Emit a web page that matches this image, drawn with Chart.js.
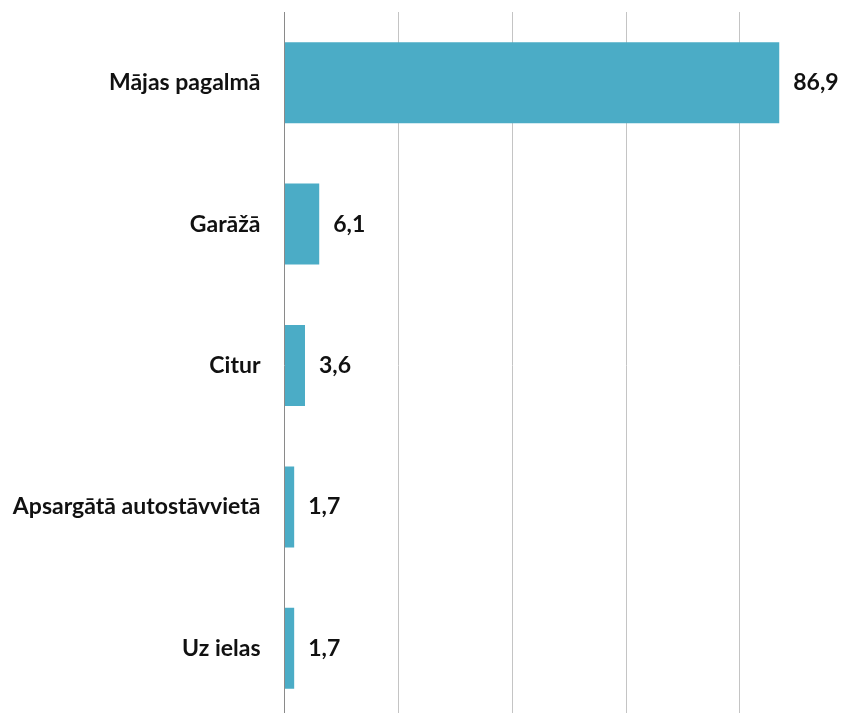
<!DOCTYPE html>
<html>
<head>
<meta charset="utf-8">
<script src="https://cdn.jsdelivr.net/npm/chart.js@4"></script>
<style>
  html, body { margin: 0; padding: 0; background: #fff; overflow: hidden; }
  canvas { display: block; }
</style>
</head>
<body>
<canvas id="chart" width="847" height="719"></canvas>
<script>
const categories = ["Mājas pagalmā", "Garāžā", "Citur", "Apsargātā autostāvvietā", "Uz ielas"];
const values = [86.9, 6.1, 3.6, 1.7, 1.7];

// draw value labels to the right of each bar
const valueLabels = {
  id: "valueLabels",
  afterDatasetsDraw(chart) {
    const ctx = chart.ctx;
    const meta = chart.getDatasetMeta(0);
    ctx.save();
    ctx.font = "bold 23px Lato";
    ctx.fillStyle = "#111";
    ctx.textAlign = "left";
    ctx.textBaseline = "middle";
    meta.data.forEach((bar, i) => {
      ctx.fillText(values[i].toFixed(1).replace(".", ","), bar.x + 14, bar.y);
    });
    ctx.restore();
  }
};

new Chart(document.getElementById("chart").getContext("2d"), {
  type: "bar",
  data: {
    labels: categories,
    datasets: [{
      data: values,
      backgroundColor: "#4BACC6",
      categoryPercentage: 1,
      barPercentage: 0.573,
    }],
  },
  options: {
    indexAxis: "y",
    responsive: false,
    animation: false,
    layout: { padding: { top: 12, left: 0, right: 0, bottom: 0 } },
    plugins: { legend: { display: false }, tooltip: { enabled: false } },
    scales: {
      x: {
        min: 0,
        max: 98.8,
        ticks: { display: false, stepSize: 20, includeBounds: false },
        border: { display: false },
        grid: {
          drawTicks: false,
          color: ctx => ctx.tick && ctx.tick.value === 0 ? "#8a8a8a" : "#c4c4c4",
        },
        afterFit(scale) { scale.height = 0; scale.paddingLeft = 0; scale.paddingRight = 0; },
      },
      y: {
        grid: { display: false, drawTicks: false },
        border: { display: false },
        ticks: {
          padding: 24,
          color: "#111",
          font: { family: "Lato", weight: "bold", size: 23 },
        },
        afterFit(scale) {
          scale.width = 284.5;
          scale.paddingTop = 0;
          scale.paddingBottom = 0;
        },
      },
    },
  },
  plugins: [valueLabels],
});
</script>
</body>
</html>
